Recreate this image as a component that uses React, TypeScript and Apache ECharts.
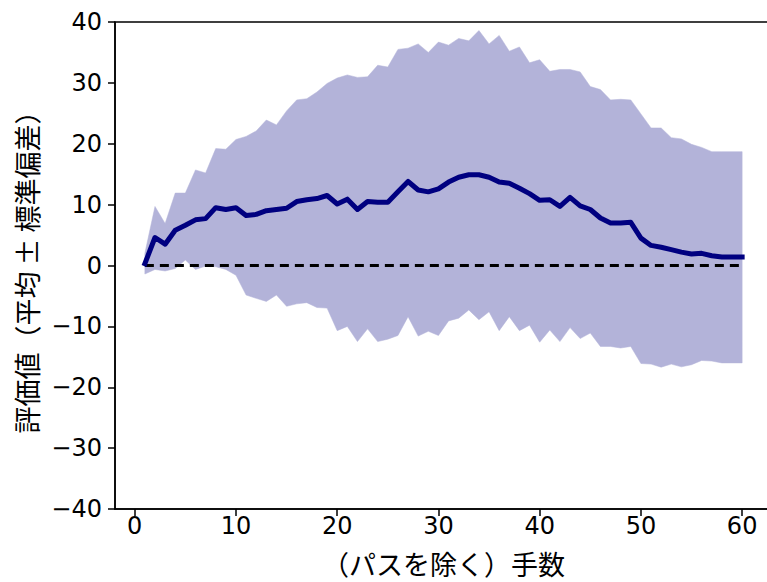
import React, { useEffect, useRef } from "react";
import * as echarts from "echarts";

const moves = [
  1, 2, 3, 4, 5, 6, 7, 8, 9, 10, 11, 12, 13, 14, 15, 16, 17, 18, 19, 20,
  21, 22, 23, 24, 25, 26, 27, 28, 29, 30, 31, 32, 33, 34, 35, 36, 37, 38, 39, 40,
  41, 42, 43, 44, 45, 46, 47, 48, 49, 50, 51, 52, 53, 54, 55, 56, 57, 58, 59, 60,
];

const meanValues = [
  0.3, 4.6, 3.5, 5.8, 6.6, 7.5, 7.7, 9.5, 9.2, 9.5, 8.2, 8.4, 9.0, 9.2, 9.4, 10.5, 10.8, 11.0, 11.5, 10.1,
  10.9, 9.2, 10.5, 10.4, 10.4, 12.1, 13.8, 12.4, 12.1, 12.6, 13.7, 14.5, 14.9, 14.9, 14.5, 13.7, 13.5, 12.7, 11.8, 10.7,
  10.8, 9.7, 11.2, 9.8, 9.2, 7.8, 7.0, 7.0, 7.1, 4.5, 3.3, 3.0, 2.6, 2.2, 1.9, 2.0, 1.6, 1.4, 1.4, 1.4,
];

const upperValues = [
  2.0, 9.7, 6.9, 11.9, 11.9, 15.7, 15.2, 19.2, 19.1, 20.7, 21.2, 22.1, 23.9, 23.1, 25.4, 27.2, 27.4, 28.5, 29.9, 30.8,
  31.3, 30.9, 31.0, 32.9, 32.6, 35.5, 35.7, 36.4, 35.0, 36.7, 36.2, 37.3, 36.9, 38.6, 36.4, 37.8, 35.2, 35.9, 33.3, 33.8,
  31.9, 32.2, 32.2, 31.8, 29.4, 28.9, 27.2, 27.3, 27.2, 24.9, 22.6, 22.6, 21.0, 20.8, 19.9, 19.4, 18.7, 18.7, 18.7, 18.7,
];

const lowerValues = [
  -1.4, -0.65, -0.9, -0.5, 0.9, -0.65, -0.1, -0.2, -0.65, -1.6, -4.85, -5.4, -5.9, -4.85, -6.7, -6.3, -6.1, -6.9, -7.0, -10.7,
  -10.0, -12.5, -10.4, -12.5, -12.1, -11.5, -8.4, -11.6, -10.8, -11.5, -9.1, -8.65, -7.3, -8.9, -7.6, -10.7, -8.4, -10.7, -9.8, -12.6,
  -10.6, -12.5, -10.2, -12.0, -11.1, -13.3, -13.3, -13.55, -13.3, -16.1, -16.2, -16.7, -16.2, -16.65, -16.3, -15.6, -15.7, -16.0, -16.0, -16.0,
];

const xTicks = [0, 10, 20, 30, 40, 50, 60];
const zeroLine = [
  [1, 0],
  [60, 0],
];

const xName = "（パスを除く）手数";
const yName = "評価値（平均 ± 標準偏差）";

export default function App() {
  const ref = useRef<HTMLDivElement>(null);

  useEffect(() => {
    document.body.style.margin = "0";
    document.body.style.overflow = "hidden";
    if (!ref.current) return;
    const chart = echarts.init(ref.current, null, { renderer: "svg" });
    const tickFont = "DejaVu Sans";
    const jpFont = "Noto Sans CJK JP";
    chart.setOption({
      animation: false,
      backgroundColor: "#ffffff",
      grid: {
        left: 115,
        right: 0,
        top: 22,
        bottom: 70,
        show: true,
        borderColor: "#000",
        borderWidth: 1.5,
        backgroundColor: "transparent",
      },
      xAxis: {
        type: "value",
        min: -1.95,
        max: 62.95,
        name: xName,
        nameLocation: "middle",
        nameGap: 41,
        nameTextStyle: { fontFamily: jpFont, fontSize: 27, color: "#000" },
        axisLine: { show: true, onZero: false, lineStyle: { color: "#000", width: 1.5 } },
        axisTick: { show: true, length: 7, customValues: xTicks, lineStyle: { color: "#000", width: 1.5 } },
        axisLabel: {
          customValues: xTicks,
          margin: 5,
          fontFamily: tickFont,
          fontSize: 24,
          color: "#000",
        },
        splitLine: { show: false },
      },
      yAxis: {
        type: "value",
        min: -40,
        max: 40,
        interval: 10,
        name: yName,
        nameLocation: "middle",
        nameGap: 75,
        nameRotate: 90,
        nameTextStyle: { fontFamily: jpFont, fontSize: 27, color: "#000" },
        axisLine: { show: true, onZero: false, lineStyle: { color: "#000", width: 1.5 } },
        axisTick: { show: true, length: 7, lineStyle: { color: "#000", width: 1.5 } },
        axisLabel: {
          margin: 13,
          fontFamily: tickFont,
          fontSize: 24,
          color: "#000",
          formatter: (v: number) => (v < 0 ? "\u2212" + Math.abs(v) : String(v)),
        },
        splitLine: { show: false },
      },
      series: [
        {
          type: "custom",
          silent: true,
          z: 1,
          clip: true,
          data: [[moves[0], 0]],
          renderItem: (params: any, api: any) => {
            const pts: number[][] = [];
            for (let i = 0; i < moves.length; i++) pts.push(api.coord([moves[i], upperValues[i]]));
            for (let i = moves.length - 1; i >= 0; i--) pts.push(api.coord([moves[i], lowerValues[i]]));
            return {
              type: "polygon",
              shape: { points: pts },
              style: { fill: "#b3b3d9", stroke: "#b3b3d9", lineWidth: 0.5 },
            };
          },
        },
        {
          type: "line",
          data: zeroLine,
          symbol: "none",
          silent: true,
          z: 3,
          lineStyle: { color: "#000", width: 2.8, type: [9, 6] },
        },
        {
          type: "line",
          data: moves.map((m, i) => [m, meanValues[i]]),
          symbol: "none",
          silent: true,
          z: 4,
          lineStyle: { color: "#000080", width: 5, join: "round", cap: "square" },
        },
      ],
    });
    return () => chart.dispose();
  }, []);

  return (
    <div style={{ width: 767, height: 582, overflow: "hidden", position: "relative" }}>
      <div ref={ref} style={{ width: 772, height: 582 }} />
    </div>
  );
}
